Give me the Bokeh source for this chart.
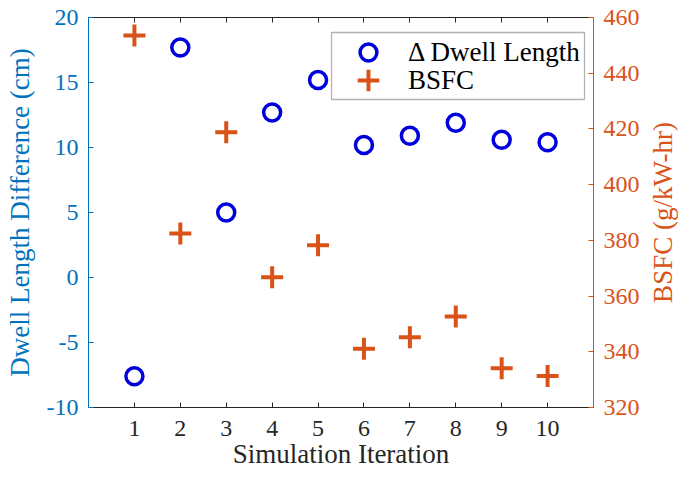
from bokeh.plotting import figure
from bokeh.layouts import row
from bokeh.models import (Range1d, LinearAxis, Legend, LegendItem, FixedTicker,
                          ColumnDataSource, BoxAnnotation)
from bokeh.embed import file_html
from bokeh.resources import INLINE

# ---- data ----
iteration = [1, 2, 3, 4, 5, 6, 7, 8, 9, 10]
dwell_diff_cm = [-7.6, 17.7, 5.0, 12.7, 15.2, 10.2, 10.9, 11.9, 10.6, 10.4]
bsfc_g_kwhr = [453.5, 382.5, 418.8, 366.8, 378.2, 341.1, 345.2, 352.7, 334.1, 331.3]
x_ticks = [1, 2, 3, 4, 5, 6, 7, 8, 9, 10]
left_ticks = [-10, -5, 0, 5, 10, 15, 20]
right_ticks = [320, 340, 360, 380, 400, 420, 440, 460]

FONT = "Liberation Serif"
BLUE_AX = "#0072BD"
ORANGE = "#D95319"
DARK = "#262626"
MARK_BLUE = "#0000DD"

src = ColumnDataSource(dict(it=iteration, dwell=dwell_diff_cm, bsfc=bsfc_g_kwhr))

p = figure(width=644, height=478, output_backend="svg", toolbar_location=None,
           x_range=Range1d(0, 11), y_range=Range1d(-10, 20),
           min_border_left=88, min_border_right=51, min_border_top=17,
           min_border_bottom=71)
p.extra_y_ranges = {"bsfc": Range1d(320, 460)}
p.outline_line_color = None
p.xgrid.visible = False
p.ygrid.visible = False
p.background_fill_color = "white"
p.border_fill_color = "white"

# bottom axis
xa = p.xaxis[0]
xa.ticker = FixedTicker(ticks=x_ticks)
xa.axis_label = "Simulation Iteration"
xa.axis_label_text_font = FONT
xa.axis_label_text_font_style = "normal"
xa.axis_label_text_font_size = "27px"
xa.axis_label_text_color = DARK
xa.axis_label_standoff = 0
xa.major_label_text_font = FONT
xa.major_label_text_font_size = "24px"
xa.major_label_text_color = DARK
xa.major_label_standoff = 13
xa.major_tick_in = 5
xa.major_tick_out = 0
xa.minor_tick_line_color = None
xa.axis_line_color = DARK
xa.major_tick_line_color = DARK

# left axis
ya = p.yaxis[0]
ya.ticker = FixedTicker(ticks=left_ticks)
ya.major_label_overrides = {t: str(t) for t in left_ticks}
ya.axis_label = "Dwell Length Difference (cm)"
ya.axis_label_text_font = FONT
ya.axis_label_text_font_style = "normal"
ya.axis_label_text_font_size = "27px"
ya.axis_label_text_color = BLUE_AX
ya.axis_label_standoff = 9
ya.major_label_text_font = FONT
ya.major_label_text_font_size = "24px"
ya.major_label_text_color = BLUE_AX
ya.major_label_standoff = 10
ya.major_tick_in = 5
ya.major_tick_out = 0
ya.minor_tick_line_color = None
ya.axis_line_color = BLUE_AX
ya.major_tick_line_color = BLUE_AX

# right axis (ticks and tick labels)
ra = LinearAxis(y_range_name="bsfc", ticker=FixedTicker(ticks=right_ticks))
ra.major_label_text_font = FONT
ra.major_label_text_font_size = "24px"
ra.major_label_text_color = ORANGE
ra.major_label_standoff = 10
ra.major_tick_in = 5
ra.major_tick_out = 0
ra.minor_tick_line_color = None
ra.axis_line_color = ORANGE
ra.major_tick_line_color = ORANGE
p.add_layout(ra, "right")

# top axis (box with ticks only)
ta = LinearAxis(ticker=FixedTicker(ticks=x_ticks))
ta.major_label_text_font_size = "1px"
ta.major_label_overrides = {t: "" for t in x_ticks}
ta.major_label_standoff = 0
ta.major_tick_in = 5
ta.major_tick_out = 0
ta.minor_tick_line_color = None
ta.axis_line_color = DARK
ta.major_tick_line_color = DARK
p.add_layout(ta, "above")

r1 = p.scatter(x="it", y="dwell", source=src, marker="circle", size=17,
               fill_color=None, line_color=MARK_BLUE, line_width=3.5)
r2 = p.scatter(x="it", y="bsfc", source=src, marker="cross", size=22,
               y_range_name="bsfc", line_color=ORANGE, line_width=4)

# legend frame
legend_box = BoxAnnotation(left=243, right=496, bottom=308, top=375,
                           left_units="screen", right_units="screen",
                           bottom_units="screen", top_units="screen",
                           fill_color="white", fill_alpha=1.0,
                           line_color="black", line_width=1.3)
p.add_layout(legend_box)


def make_legend(label, renderer, loc, gh):
    lg = Legend(items=[LegendItem(label=label, renderers=[renderer])],
                location=loc, orientation="vertical")
    lg.glyph_width = 74
    lg.glyph_height = gh
    lg.padding = 0
    lg.spacing = 0
    lg.margin = 0
    lg.label_standoff = 3
    lg.label_text_font = FONT
    lg.label_text_font_size = "27px"
    lg.label_text_color = "black"
    lg.border_line_color = None
    lg.background_fill_alpha = 0.0
    return lg


p.add_layout(make_legend("\u0394 Dwell Length", r1, (243, 334), 42))
p.add_layout(make_legend("BSFC", r2, (243, 300), 54))

# narrow companion figure carrying the right-hand axis title,
# read bottom-to-top like the reference
p2 = figure(width=34, height=478, output_backend="svg", toolbar_location=None,
            x_range=Range1d(0, 1), y_range=Range1d(320, 460),
            min_border_left=32, min_border_right=0, min_border_top=17,
            min_border_bottom=71)
p2.outline_line_color = None
p2.xgrid.visible = False
p2.ygrid.visible = False
p2.xaxis.visible = False
p2.background_fill_color = "white"
p2.border_fill_color = "white"
ya2 = p2.yaxis[0]
ya2.ticker = FixedTicker(ticks=[])
ya2.axis_line_color = None
ya2.major_tick_line_color = None
ya2.minor_tick_line_color = None
ya2.major_tick_in = 0
ya2.major_tick_out = 0
ya2.major_label_standoff = 0
ya2.axis_label = "BSFC (g/kW-hr)"
ya2.axis_label_standoff = 0
ya2.axis_label_text_font = FONT
ya2.axis_label_text_font_style = "normal"
ya2.axis_label_text_font_size = "27px"
ya2.axis_label_text_color = ORANGE

layout = row(p, p2, spacing=0)
open("out.html", "w").write(file_html(layout, INLINE))
